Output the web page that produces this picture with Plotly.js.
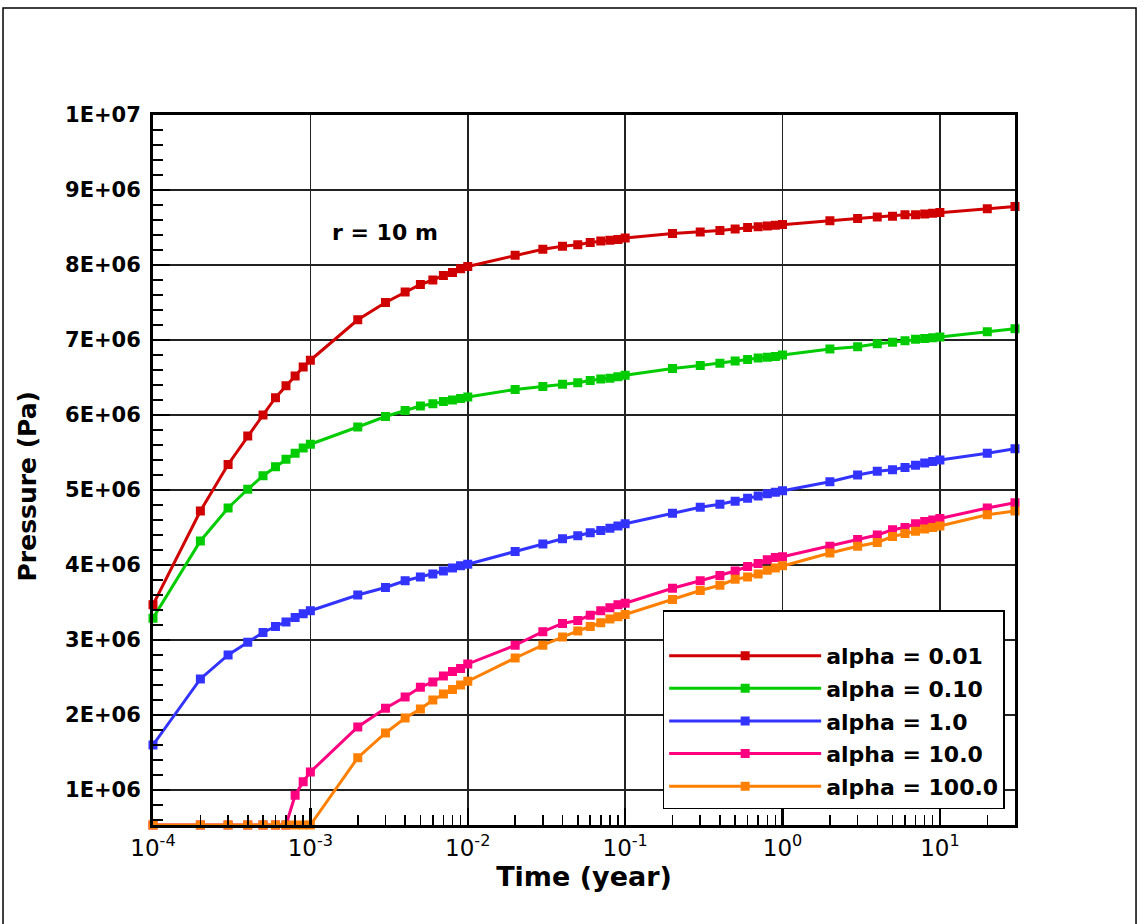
<!DOCTYPE html>
<html><head><meta charset="utf-8">
<script src="https://cdn.plot.ly/plotly-3.0.1.min.js"></script>
<style>html,body{margin:0;padding:0;background:#fff}</style>
</head><body><div id="chart" style="width:1145px;height:924px"></div>
<script>
// Time (year)
const timeYear = [
  1e-4,2e-4,3e-4,4e-4,5e-4,6e-4,7e-4,8e-4,9e-4,
  1e-3,2e-3,3e-3,4e-3,5e-3,6e-3,7e-3,8e-3,9e-3,
  1e-2,2e-2,3e-2,4e-2,5e-2,6e-2,7e-2,8e-2,9e-2,
  1e-1,2e-1,3e-1,4e-1,5e-1,6e-1,7e-1,8e-1,9e-1,
  1,2,3,4,5,6,7,8,9,
  10,20,30
];
// Pressure (Pa) for each alpha
const alpha001 = [
  3.47e6,4.72e6,5.34e6,5.72e6,6.00e6,6.23e6,6.39e6,6.52e6,6.64e6,
  6.73e6,7.27e6,7.50e6,7.64e6,7.74e6,7.80e6,7.86e6,7.90e6,7.95e6,
  7.98e6,8.13e6,8.21e6,8.25e6,8.27e6,8.30e6,8.32e6,8.33e6,8.34e6,
  8.36e6,8.42e6,8.44e6,8.46e6,8.48e6,8.50e6,8.51e6,8.52e6,8.53e6,
  8.54e6,8.59e6,8.62e6,8.64e6,8.65e6,8.67e6,8.67e6,8.68e6,8.69e6,
  8.70e6,8.75e6,8.78e6
];
const alpha010 = [
  3.29e6,4.32e6,4.76e6,5.01e6,5.19e6,5.31e6,5.41e6,5.49e6,5.56e6,
  5.61e6,5.84e6,5.98e6,6.06e6,6.12e6,6.15e6,6.18e6,6.20e6,6.22e6,
  6.24e6,6.34e6,6.38e6,6.41e6,6.43e6,6.46e6,6.48e6,6.49e6,6.51e6,
  6.53e6,6.62e6,6.66e6,6.69e6,6.72e6,6.74e6,6.76e6,6.77e6,6.78e6,
  6.80e6,6.88e6,6.91e6,6.95e6,6.97e6,6.99e6,7.01e6,7.02e6,7.03e6,
  7.04e6,7.11e6,7.15e6
];
const alpha1 = [
  1.60e6,2.48e6,2.80e6,2.97e6,3.10e6,3.18e6,3.24e6,3.30e6,3.35e6,
  3.39e6,3.60e6,3.70e6,3.79e6,3.84e6,3.88e6,3.92e6,3.96e6,3.99e6,
  4.01e6,4.18e6,4.28e6,4.35e6,4.39e6,4.43e6,4.46e6,4.49e6,4.52e6,
  4.55e6,4.69e6,4.77e6,4.81e6,4.85e6,4.89e6,4.92e6,4.95e6,4.97e6,
  4.99e6,5.11e6,5.20e6,5.25e6,5.27e6,5.30e6,5.33e6,5.36e6,5.38e6,
  5.40e6,5.49e6,5.55e6
];
const alpha10 = [
  5.33e5,5.33e5,5.33e5,5.33e5,5.33e5,5.33e5,5.33e5,0.93e6,1.11e6,
  1.24e6,1.84e6,2.09e6,2.24e6,2.37e6,2.44e6,2.52e6,2.58e6,2.62e6,
  2.68e6,2.93e6,3.11e6,3.22e6,3.26e6,3.33e6,3.39e6,3.43e6,3.47e6,
  3.49e6,3.69e6,3.79e6,3.86e6,3.92e6,3.98e6,4.02e6,4.07e6,4.10e6,
  4.11e6,4.25e6,4.34e6,4.40e6,4.47e6,4.50e6,4.55e6,4.58e6,4.60e6,
  4.62e6,4.76e6,4.83e6
];
const alpha100 = [
  5.33e5,5.33e5,5.33e5,5.33e5,5.33e5,5.33e5,5.33e5,5.33e5,5.33e5,
  5.33e5,1.43e6,1.76e6,1.96e6,2.08e6,2.20e6,2.28e6,2.34e6,2.40e6,
  2.45e6,2.76e6,2.93e6,3.04e6,3.12e6,3.18e6,3.23e6,3.28e6,3.31e6,
  3.34e6,3.54e6,3.66e6,3.73e6,3.81e6,3.84e6,3.88e6,3.93e6,3.96e6,
  3.99e6,4.16e6,4.25e6,4.30e6,4.38e6,4.42e6,4.45e6,4.48e6,4.50e6,
  4.52e6,4.67e6,4.72e6
];
const seriesNames = ['alpha = 0.01','alpha = 0.10','alpha = 1.0','alpha = 10.0','alpha = 100.0'];
const seriesColors = ['#d00000','#00cc00','#3333ff','#ff0080','#ff8000'];
const seriesValues = [alpha001, alpha010, alpha1, alpha10, alpha100];

const xTickVals = [1e-4,1e-3,1e-2,1e-1,1,10];
const xTickText = ['10<sup>-4</sup>','10<sup>-3</sup>','10<sup>-2</sup>','10<sup>-1</sup>','10<sup>0</sup>','10<sup>1</sup>'];
const yTickVals = [1e6,2e6,3e6,4e6,5e6,6e6,7e6,8e6,9e6,1e7];
const yTickText = ['1E+06','2E+06','3E+06','4E+06','5E+06','6E+06','7E+06','8E+06','9E+06','1E+07'];

const xMinor = [];
for (let e = -4; e <= 1; e++) for (let m = 2; m <= 9; m++) { const v = m * Math.pow(10, e); if (v <= 30) xMinor.push(v); }

const FONT = 'DejaVu Sans';
const traces = seriesNames.map((n, i) => ({
  type: 'scatter', mode: 'lines+markers', name: n, legendgroup: 'g' + i,
  x: timeYear, y: seriesValues[i], cliponaxis: false,
  line: {color: seriesColors[i], width: 3},
  marker: {symbol: 'square', size: 9, color: seriesColors[i]}
}));

const layout = {
  width: 1145, height: 924,
  margin: {l: 153, r: 130, t: 115, b: 99},
  paper_bgcolor: '#fff', plot_bgcolor: '#fff',
  showlegend: true,
  xaxis: {
    type: 'log', range: [-4, Math.log10(30)], autorange: false,
    tickmode: 'array', tickvals: xTickVals, ticktext: xTickText,
    ticks: 'inside', ticklen: 17, tickwidth: 2.5, tickcolor: '#000',
    showline: true, linewidth: 3, linecolor: '#000', mirror: true,
    showgrid: true, gridcolor: '#222', gridwidth: 1.5, zeroline: false,
    tickfont: {family: FONT, size: 23, color: '#000'},
    minor: {tickmode: 'array', tickvals: xMinor, ticks: 'inside', ticklen: 10, tickwidth: 1.5, tickcolor: '#000', showgrid: false},
    title: {text: 'Time (year)', font: {family: FONT, size: 27, color: '#000', weight: 'bold'}, standoff: 7}
  },
  yaxis: {
    range: [5.33e5, 1e7], autorange: false,
    tickmode: 'array', tickvals: yTickVals, ticktext: yTickText,
    ticks: 'inside', ticklen: 17, tickwidth: 2.5, tickcolor: '#000',
    showline: true, linewidth: 3, linecolor: '#000', mirror: true,
    showgrid: true, gridcolor: '#222', gridwidth: 1.5, zeroline: false,
    tickfont: {family: FONT, size: 21, color: '#000', weight: 'bold'},
    ticklabelstandoff: 5,
    minor: {tickmode: 'linear', tick0: 0, dtick: 2e5, ticks: 'inside', ticklen: 10, tickwidth: 1.5, tickcolor: '#000', showgrid: false}
  },
  legend: {
    x: 0.988, xanchor: 'right', y: 0.0225, yanchor: 'bottom',
    bgcolor: '#fff', bordercolor: '#000', borderwidth: 1.5,
    font: {family: FONT, size: 22, color: '#000', weight: 'bold'},
    title: {text: '\u00a0', font: {family: FONT, size: 18}},
    itemwidth: 152, traceorder: 'grouped', tracegroupgap: 1
  },
  annotations: [{
    xref: 'paper', yref: 'paper', x: 0.269, y: 0.835, xanchor: 'center', yanchor: 'middle', showarrow: false,
    text: 'r = 10 m', font: {family: FONT, size: 22, color: '#000', weight: 'bold'}
  }, {
    xref: 'paper', yref: 'paper', x: -0.146, y: 0.477, xanchor: 'center', yanchor: 'middle', showarrow: false,
    textangle: -90, text: 'Pressure (Pa)', font: {family: FONT, size: 25, color: '#000', weight: 'bold'}
  }],
  shapes: [{
    type: 'rect', xref: 'paper', yref: 'paper', layer: 'below',
    x0: -0.1740, x1: 1.1404, y0: -0.145, y1: 1.1507,
    line: {color: '#000', width: 1.5}, fillcolor: 'rgba(0,0,0,0)'
  }]
};

Plotly.newPlot('chart', traces, layout, {displayModeBar: false, staticPlot: true});
</script></body></html>
